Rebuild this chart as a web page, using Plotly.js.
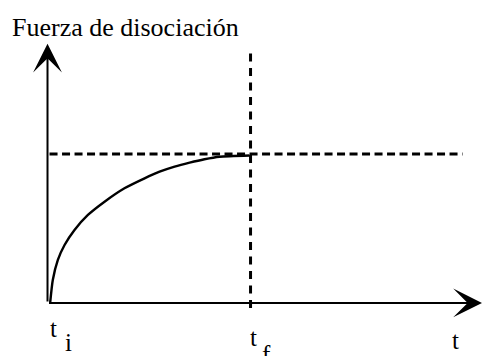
<!DOCTYPE html>
<html>
<head>
<meta charset="utf-8">
<script src="https://cdn.plot.ly/plotly-3.0.1.min.js"></script>
<style>
  html, body { margin: 0; padding: 0; background: #fff; }
  #chart { width: 482px; height: 356px; }
</style>
</head>
<body>
<div id="chart"></div>
<script>
  /* ---------- data: dissociation force vs time (t_i = 0, t_f = 1) ---------- */
  const tValues = [0.013, 0.026, 0.051, 0.084, 0.133, 0.199, 0.281, 0.379, 0.478, 0.552, 0.626, 0.700, 0.773, 0.847, 0.995];
  const fValues = [0.000, 0.154, 0.289, 0.389, 0.490, 0.591, 0.680, 0.770, 0.837, 0.881, 0.915, 0.942, 0.965, 0.982, 0.990];

  const T_INITIAL = 0;
  const T_FINAL   = 1;
  const F_LIMIT   = 1;

  const tickLabels = ['t', 't', 't'];
  const tickSubs   = ['i', 'f', ''];
  const yLabel     = 'Fuerza de disociación';

  /* ---------- axis extents ---------- */
  const X_RANGE = [-0.234, 2.140];
  const Y_RANGE = [-0.356, 2.034];
  const X_TIP   = 2.140;
  const Y_TIP   = 1.74;

  const SERIF = '"Liberation Serif", "Times New Roman", serif';

  const curve = {
    x: tValues, y: fValues,
    type: 'scatter', mode: 'lines',
    line: { color: '#000', width: 2.4, shape: 'spline', smoothing: 0.6 },
    hoverinfo: 'skip'
  };

  const shapes = [
    /* horizontal asymptote */
    { type: 'line', xref: 'x', yref: 'y',
      x0: 0.01, x1: 2.044, y0: F_LIMIT, y1: F_LIMIT,
      line: { color: '#000', width: 3, dash: '8px,4.5px' } },
    /* t_f marker */
    { type: 'line', xref: 'x', yref: 'y',
      x0: T_FINAL, x1: T_FINAL, y0: -0.034, y1: 1.685,
      line: { color: '#000', width: 3, dash: '8px,6.5px' } }
  ];

  const annotations = [
    /* axes with arrowheads */
    { x: X_TIP, y: 0, ax: 0, ay: 0, xref: 'x', yref: 'y', axref: 'x', ayref: 'y',
      showarrow: true, arrowhead: 3, arrowsize: 2.4, arrowwidth: 2, arrowcolor: '#000', text: '' },
    { x: 0, y: Y_TIP, ax: 0, ay: 0, xref: 'x', yref: 'y', axref: 'x', ayref: 'y',
      showarrow: true, arrowhead: 3, arrowsize: 2.4, arrowwidth: 2, arrowcolor: '#000', text: '' },
    /* y title */
    { x: 0.021, y: 0.969, xref: 'paper', yref: 'paper', xanchor: 'left', yanchor: 'top',
      text: yLabel, showarrow: false, font: { family: SERIF, size: 26, color: '#000' } }
  ];

  /* tick labels: t_i, t_f and t */
  const tickX = [T_INITIAL, T_FINAL - 0.015, 1.98];
  const tickY = [-0.168, -0.233, -0.25];
  const subDx = [0.074, 0.064, 0];
  const subDy = [0.10, 0.115, 0];
  tickLabels.forEach(function (lab, i) {
    annotations.push({ x: tickX[i], y: tickY[i], xref: 'x', yref: 'y', xanchor: 'left', yanchor: 'middle',
      text: lab, showarrow: false, font: { family: SERIF, size: 25, color: '#000' } });
    if (tickSubs[i]) {
      annotations.push({ x: tickX[i] + subDx[i], y: tickY[i] - subDy[i], xref: 'x', yref: 'y', xanchor: 'left', yanchor: 'middle',
        text: tickSubs[i], showarrow: false, font: { family: SERIF, size: 25, color: '#000' } });
    }
  });

  const layout = {
    width: 482, height: 356,
    margin: { l: 0, r: 0, t: 0, b: 0 },
    paper_bgcolor: '#fff', plot_bgcolor: '#fff',
    showlegend: false,
    xaxis: { range: X_RANGE, visible: false, fixedrange: true },
    yaxis: { range: Y_RANGE, visible: false, fixedrange: true },
    shapes: shapes,
    annotations: annotations
  };

  Plotly.newPlot('chart', [curve], layout, { displayModeBar: false, staticPlot: true });
</script>
</body>
</html>
